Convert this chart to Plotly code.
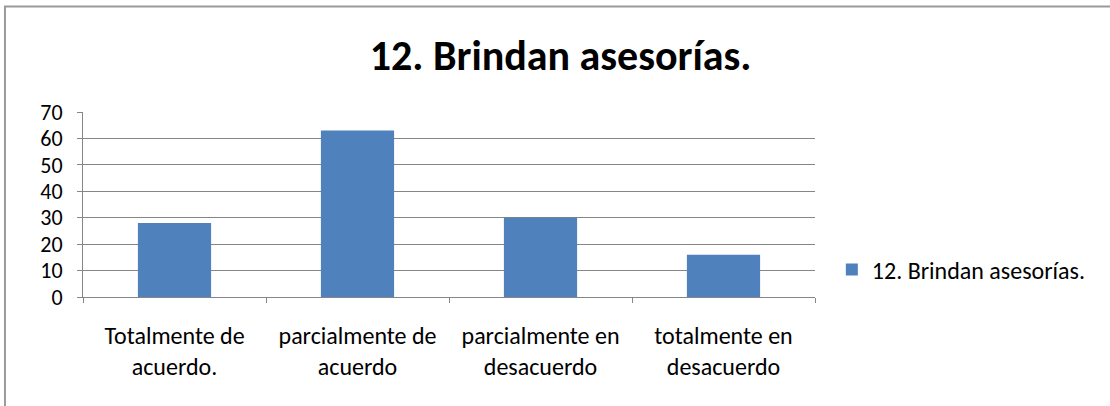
import plotly.graph_objects as go

categories = ["Totalmente de<br>acuerdo.", "parcialmente de<br>acuerdo",
              "parcialmente en<br>desacuerdo", "totalmente en<br>desacuerdo"]
values = [28, 63, 30, 16]
series_name = "12. Brindan asesorías."
title_text = "12. Brindan asesorías."

font_family = "Carlito, Calibri, 'Open Sans', 'Noto Sans', sans-serif"

fig = go.Figure()
fig.add_trace(go.Bar(
    x=categories, y=values, name=series_name,
    marker=dict(color="#4F81BD", line=dict(width=0)),
    width=0.4, showlegend=True,
))

fig.update_layout(
    width=1110, height=406,
    margin=dict(l=83, r=295, t=112, b=109),
    paper_bgcolor="white", plot_bgcolor="white",
    font=dict(family=font_family, color="black", size=20),
    title=dict(text="<b>" + title_text + "</b>", x=0.505, xanchor="center",
               y=0.865, yanchor="middle", font=dict(size=42, color="black")),
    showlegend=True,
    legend=dict(x=1.023, y=0.146, xanchor="left", yanchor="middle",
                font=dict(size=24), bgcolor="rgba(0,0,0,0)"),
    bargap=0.6,
)
fig.update_yaxes(range=[0, 70], dtick=10, showgrid=True, gridcolor="#868686",
                 gridwidth=1, showline=True, linecolor="#868686", linewidth=1,
                 ticks="outside", ticklen=5, tickcolor="#868686",
                 tickfont=dict(size=22), ticklabelstandoff=10, zeroline=False)
fig.update_xaxes(showline=True, linecolor="#868686", linewidth=1,
                 ticks="outside", ticklen=5, tickcolor="#868686",
                 tickson="boundaries", tickfont=dict(size=24),
                 ticklabelstandoff=17, showgrid=False)

fig.add_shape(type="rect", xref="paper", yref="paper",
              x0=-0.1066, x1=1.6, y0=-1.0, y1=1.57,
              line=dict(color="#9a9a9a", width=2), layer="below")

fig.write_html("out.html", config={"displayModeBar": False},
               post_script="document.body.style.margin='0px';")
